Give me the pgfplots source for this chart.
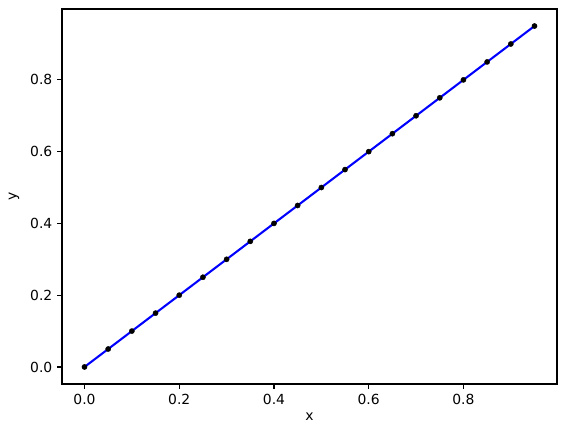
\documentclass[border=0pt]{standalone}
\usepackage{pgfplots}
\pgfplotsset{compat=1.18}
\usepackage{fontspec}
\setmainfont{DejaVu Sans}
\begin{document}
\fontsize{13.9}{16}\selectfont
\begin{tikzpicture}
\useasboundingbox (-62pt,-48pt) rectangle (505pt,384pt);
\begin{axis}[
  scale only axis, width=495pt, height=375pt,
  at={(0,0)}, anchor=south west,
  xmin=-0.0475, xmax=0.9975, ymin=-0.0475, ymax=0.9975,
  xtick={0,0.2,0.4,0.6,0.8}, ytick={0,0.2,0.4,0.6,0.8},
  tick align=outside, tick pos=left,
  major tick length=4.86pt,
  every tick/.style={black, line width=1.1pt},
  axis line style={line width=1.1pt},
  /pgf/number format/assume math mode=true,
  /pgf/number format/.cd, fixed, fixed zerofill, precision=1, /pgfplots/.cd,
  ticklabel style={font=\fontsize{13.9}{16}\selectfont},
  label style={font=\fontsize{13.9}{16}\selectfont},
  xlabel={x}, ylabel={y},
  xlabel style={at={(axis description cs:0.5,0)}, anchor=north, yshift=-24pt},
  ylabel style={at={(axis description cs:0,0.5)}, rotate=0, anchor=south, yshift=38pt},
]
\addplot[blue, line width=2.08pt, mark=none] coordinates {
(0,0)(0.05,0.05)(0.1,0.1)(0.15,0.15)(0.2,0.2)(0.25,0.25)(0.3,0.3)(0.35,0.35)(0.4,0.4)(0.45,0.45)(0.5,0.5)(0.55,0.55)(0.6,0.6)(0.65,0.65)(0.7,0.7)(0.75,0.75)(0.8,0.8)(0.85,0.85)(0.9,0.9)(0.95,0.95)};
\addplot[only marks, mark=*, mark size=2.6pt, black, mark options={fill=black}] coordinates {
(0,0)(0.05,0.05)(0.1,0.1)(0.15,0.15)(0.2,0.2)(0.25,0.25)(0.3,0.3)(0.35,0.35)(0.4,0.4)(0.45,0.45)(0.5,0.5)(0.55,0.55)(0.6,0.6)(0.65,0.65)(0.7,0.7)(0.75,0.75)(0.8,0.8)(0.85,0.85)(0.9,0.9)(0.95,0.95)};
\end{axis}
\end{tikzpicture}
\end{document}
